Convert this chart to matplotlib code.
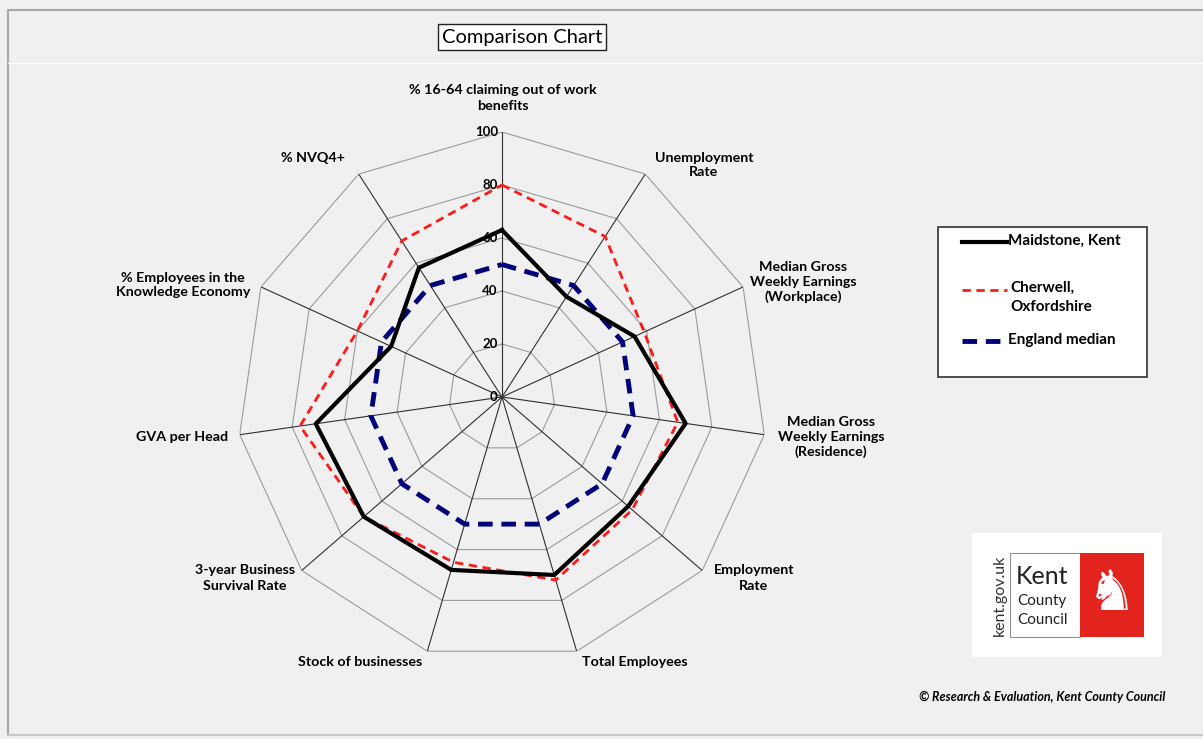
import numpy as np
import matplotlib.pyplot as plt
from matplotlib.patches import Rectangle

categories = ["% 16-64 claiming out of work\nbenefits", "Unemployment\nRate",
              "Median Gross\nWeekly Earnings\n(Workplace)",
              "Median Gross\nWeekly Earnings\n(Residence)", "Employment\nRate",
              "Total Employees", "Stock of businesses",
              "3-year Business\nSurvival Rate", "GVA per Head",
              "% Employees in the\nKnowledge Economy", "% NVQ4+"]
maidstone = [63, 45, 55, 70, 63, 70, 68, 69, 71, 46, 58]
cherwell = [80, 72, 59, 67, 65, 72, 65, 69, 77, 60, 70]
england = [50, 50, 50, 50, 50, 50, 50, 50, 50, 50, 50]
rticks = [0, 20, 40, 60, 80, 100]

# label centres in pixels (x, y from top)
label_pos = [(503, 98), (704, 165), (803, 282), (831, 437), (754, 578),
             (635, 662), (360, 662), (245, 578), (182, 437), (183, 285),
             (313, 158)]

W, H = 1203, 739
plt.rcParams['font.family'] = ['Lato', 'DejaVu Sans']
fig = plt.figure(figsize=(W / 100, H / 100), dpi=100)
fig.patch.set_facecolor('#f0f0f0')

# overlay in pixel coordinates for frame, title, legend, logo
bg = fig.add_axes([0, 0, 1, 1])
bg.set_xlim(0, W)
bg.set_ylim(H, 0)
bg.axis('off')
bg.plot([8, 8, W], [H - 4, 10, 10], color='#a8a8a8', lw=1.5)
bg.plot([8, W], [H - 4, H - 4], color='#c8c8c8', lw=1.5)
bg.plot([8, W], [63, 63], color='white', lw=1)

bg.text(522, 37, "Comparison Chart", fontsize=14.5, ha='center', va='center',
        bbox=dict(boxstyle='square,pad=0.2', fc='white', ec='#202020', lw=1))

# logo
bg.add_patch(Rectangle((972, 533), 190, 124, fc='white', ec='none'))
bg.add_patch(Rectangle((1010, 553), 70, 84, fc='white', ec='#909090', lw=0.8))
bg.add_patch(Rectangle((1080, 553), 64, 84, fc='#e3231e', ec='none'))
bg.text(1000, 595, "kent.gov.uk", rotation=90, ha='center', va='center',
        fontsize=11.5, color='#333333')
bg.text(1016, 576, "Kent", ha='left', va='center', fontsize=18, color='#222222')
bg.text(1017, 601, "County", ha='left', va='center', fontsize=11, color='#222222')
bg.text(1017, 620, "Council", ha='left', va='center', fontsize=11, color='#222222')
bg.text(1112, 595, "\u265e", ha='center', va='center', fontsize=40, color='white',
        family='DejaVu Sans')

bg.text(1165, 697, "\u00a9 Research & Evaluation, Kent County Council",
        ha='right', va='center', fontsize=9, style='italic', weight='bold')

# radar
cx, cy, R = 502, 397, 265
ax = fig.add_axes([(cx - R) / W, (H - cy - R) / H, 2 * R / W, 2 * R / H],
                  projection='polar')
ax.set_facecolor('none')
ax.set_theta_offset(np.pi / 2)
ax.set_theta_direction(-1)
ax.set_ylim(0, 100)
ax.grid(False)
ax.spines['polar'].set_visible(False)
ax.set_xticks([])
ax.set_yticks([])

n = len(categories)
theta = np.arange(n) * 2 * np.pi / n
tc = np.append(theta, theta[0])

for r in rticks[1:]:
    ax.plot(tc, [r] * (n + 1), color='#9a9a9a', lw=0.8)
for t in theta:
    ax.plot([t, t], [0, 100], color='#303030', lw=0.8)

for r in rticks:
    ax.annotate(str(r), (0, r), xytext=(-3, 0), textcoords='offset points',
                ha='right', va='center', fontsize=9.5, weight='bold')


def closed(v):
    return list(v) + [v[0]]


styles = [
    ('Maidstone, Kent', maidstone, dict(color='black', lw=3, ls='-'), 5),
    ('Cherwell,\nOxfordshire', cherwell,
     dict(color='#ff1a1a', lw=2, ls=(0, (3, 2))), 4),
    ('England median', england,
     dict(color='#00007a', lw=3.5, ls=(0, (3, 1.8))), 3),
]
for name, vals, st, z in styles:
    ax.plot(tc, closed(vals), zorder=z, **st)

for lab, (x, y) in zip(categories, label_pos):
    fig.text(x / W, 1 - y / H, lab, ha='center', va='center', fontsize=10.3,
             weight='bold', linespacing=1.3)

# legend box drawn like the original (large bottom padding)
bg.add_patch(Rectangle((938, 227), 209, 150, fc='white', ec='#404040', lw=1.3))
leg_y = [242, 290, 341]
for (name, vals, st, z), y in zip(styles, leg_y):
    bg.plot([962, 1007], [y, y], **st)
    if '\n' in name:
        bg.text(1010, y - 9, name, ha='left', va='top', fontsize=11,
                weight='bold', linespacing=1.45)
    else:
        bg.text(1008, y - 1, name, ha='left', va='center', fontsize=11,
                weight='bold')

fig.savefig('out.png', dpi=100, facecolor=fig.get_facecolor())
